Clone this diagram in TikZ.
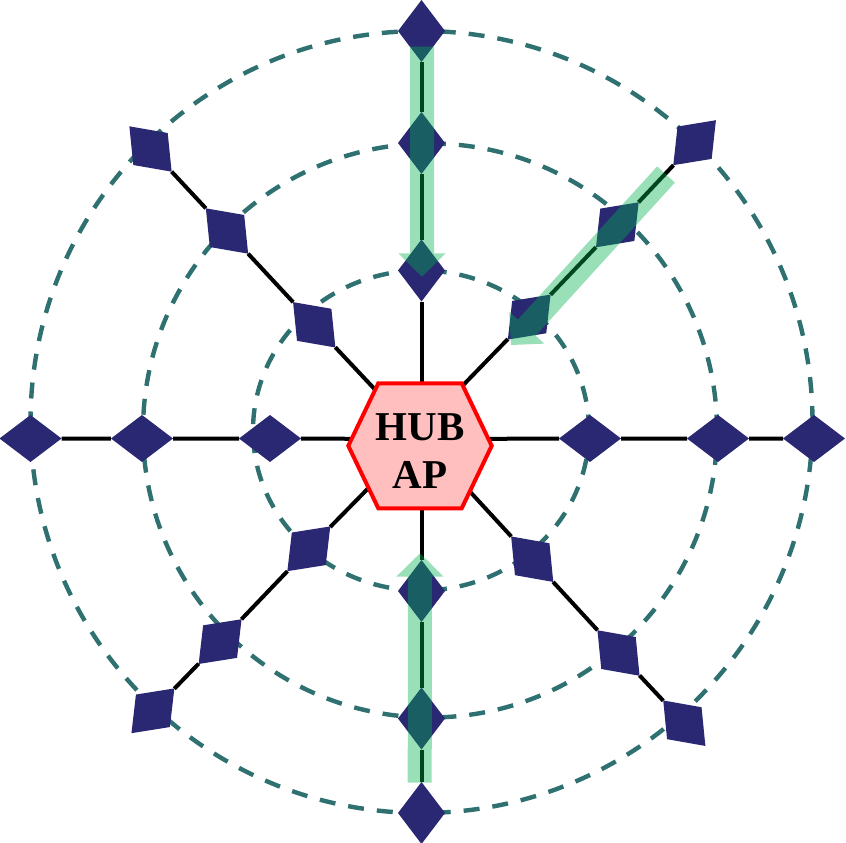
\documentclass[tikz,border=0pt]{standalone}
\usepackage{fontspec}
\setmainfont{Liberation Serif}
\usetikzlibrary{shapes.geometric,calc}
\definecolor{navy}{RGB}{42,40,114}
\definecolor{ringc}{RGB}{47,112,112}
\definecolor{hlg}{RGB}{0,175,78}
\definecolor{hubfill}{RGB}{255,191,191}
\pgfdeclarelayer{bg}
\pgfdeclarelayer{fg}
\pgfsetlayers{bg,main,fg}
\newcommand\hlarrow[2]{%
  \coordinate (hlb) at ($(#2)!23.4pt!(#1)$);
  \fill[hl] ($(#1)!12pt!90:(#2)$) -- ($(hlb)!12pt!90:(#2)$) -- ($(hlb)!23.7pt!90:(#2)$) -- (#2)
    -- ($(hlb)!23.7pt!-90:(#2)$) -- ($(hlb)!12pt!-90:(#2)$) -- ($(#1)!12pt!-90:(#2)$) -- cycle;}
\begin{document}
\begin{tikzpicture}[x=1pt,y=-1pt,
  dia/.style={diamond, fill=navy, inner sep=0pt, outer sep=0pt, minimum width=62pt, minimum height=47pt},
  ring/.style={draw=ringc, line width=4.4pt, dash pattern=on 16pt off 13pt},
  spoke/.style={draw=black, line width=4pt},
  hl/.style={fill=hlg, fill opacity=0.4},
  hexa/.style={draw=red, line width=4pt, fill=hubfill},
  hubtext/.style={font=\bfseries\fontsize{41}{48.3}\selectfont, align=center, inner sep=0pt, text=black}]
\useasboundingbox (0,0) rectangle (846,843);
% diamonds
\node[dia] (r1) at (590,438.5) {};
\node[dia] (r2) at (718,438.5) {};
\node[dia] (r3) at (814,438.5) {};
\node[dia] (l1) at (270,438.5) {};
\node[dia] (l2) at (142,438.5) {};
\node[dia] (l3) at (30.5,438.5) {};
\node[dia, rotate=90] (t1) at (421.5,270.5) {};
\node[dia, rotate=90] (t2) at (421.5,143) {};
\node[dia, rotate=90] (t3) at (421.5,31) {};
\node[dia, rotate=90] (b1) at (421.5,591) {};
\node[dia, rotate=90] (b2) at (421.5,718.5) {};
\node[dia, rotate=90] (b3) at (421.5,813) {};
\node[dia, rotate=46.5] (tr1) at (529.2,317.1) {};
\node[dia, rotate=46.5] (tr2) at (617.3,224.8) {};
\node[dia, rotate=46.5] (tr3) at (694.6,142.7) {};
\node[dia, rotate=-47] (tl1) at (314.2,324.8) {};
\node[dia, rotate=-47] (tl2) at (227,231) {};
\node[dia, rotate=-47] (tl3) at (150.5,149) {};
\node[dia, rotate=46.2] (bl1) at (308.8,548.8) {};
\node[dia, rotate=46.2] (bl2) at (220.1,641.6) {};
\node[dia, rotate=46.2] (bl3) at (152.9,710.8) {};
\node[dia, rotate=-47.2] (br1) at (532.2,559.2) {};
\node[dia, rotate=-47.2] (br2) at (618.5,653) {};
\node[dia, rotate=-47.2] (br3) at (684.3,723.2) {};
% spoke centres
\coordinate (sc) at (421.5,439);
\coordinate (sctr) at (421.5,428);
\coordinate (scbl) at (421.5,434);
\begin{pgfonlayer}{bg}
\draw[ring] (421.5,422) circle[radius=391pt];
\draw[ring] (430,430.5) circle[radius=287pt];
\draw[ring] (421,430.5) ellipse[x radius=168pt, y radius=160pt];
\draw[spoke] (sc) -- (r1) -- (r2) -- (r3);
\draw[spoke] (sc) -- (l1) -- (l2) -- (l3);
\draw[spoke] (sc) -- (t1) -- (t2) -- (t3);
\draw[spoke] (sc) -- (b1) -- (b2) -- (b3);
\draw[spoke] (sctr) -- (tr1) -- (tr2) -- (tr3);
\draw[spoke] (sc) -- (tl1) -- (tl2) -- (tl3);
\draw[spoke] (scbl) -- (bl1) -- (bl2) -- (bl3);
\draw[spoke] (sc) -- (br1) -- (br2) -- (br3);
\end{pgfonlayer}
% hub
\coordinate (hc) at (420,445.8);
\draw[hexa] ($(hc)+(-41.7,-62.5)$) -- ($(hc)+(41.7,-62.5)$) -- ($(hc)+(71.7,0)$)
  -- ($(hc)+(41.7,62.5)$) -- ($(hc)+(-41.7,62.5)$) -- ($(hc)+(-71.7,0)$) -- cycle;
\node[hubtext] (hub) at (420,450.8) {HUB\\AP};
% highlighted routes
\coordinate (hs1) at (422,46.7);
\coordinate (ht1) at (422,276.7);
\coordinate (hs2) at (419.7,782.7);
\coordinate (ht2) at (420,553.3);
\coordinate (hs3) at (666,174.5);
\coordinate (ht3) at (511,345);
\begin{pgfonlayer}{fg}
\hlarrow{hs1}{ht1}
\hlarrow{hs2}{ht2}
\hlarrow{hs3}{ht3}
\end{pgfonlayer}
\end{tikzpicture}
\end{document}
